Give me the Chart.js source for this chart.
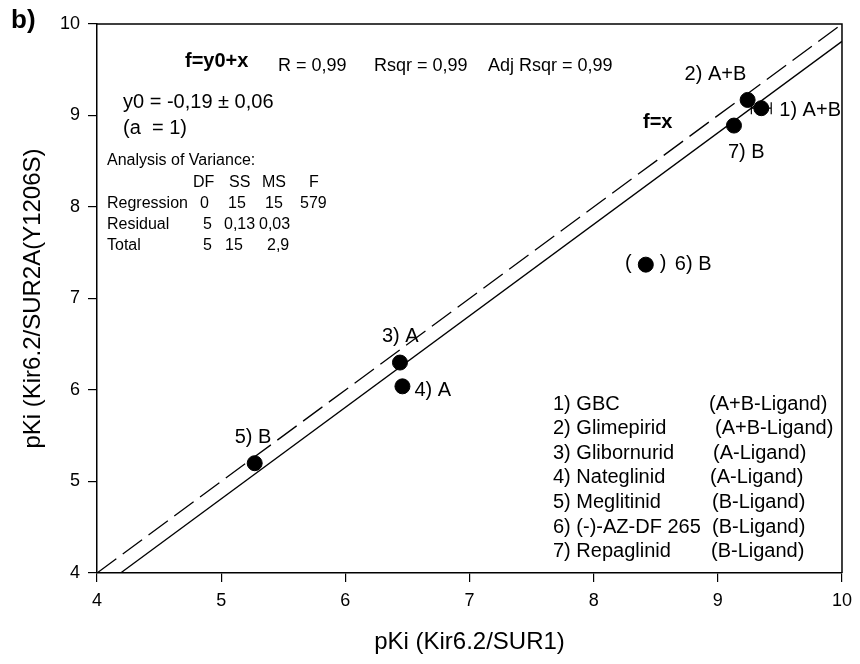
<!DOCTYPE html>
<html><head><meta charset="utf-8">
<script src="https://cdn.jsdelivr.net/npm/chart.js@4/dist/chart.umd.min.js"></script>
<style>html,body{margin:0;padding:0;background:#fff}#wrap{width:860px;height:664px;position:relative}</style>
</head><body><div id="wrap"><canvas id="c" width="860" height="664"></canvas></div>
<script>
// ---- data ----
const compoundNumbers = [1, 2, 3, 4, 5, 6, 7];
const pKiSUR1 = [9.35, 9.24, 6.44, 6.46, 5.27, 8.42, 9.13];
const pKiSUR2A = [9.08, 9.17, 6.30, 6.04, 5.20, 7.37, 8.89];
const pKiSUR1Err = [0.08, 0, 0, 0, 0, 0.14, 0];
const pointLabels = ['1) A+B', '2) A+B', '3) A', '4) A', '5) B', '6) B', '7) B'];
const identityX = [4, 10];
const identityY = [4, 10];
const fitX = [4.19, 10];
const fitY = [4, 9.81];
const xTickValues = [4, 5, 6, 7, 8, 9, 10];
const yTickValues = [4, 5, 6, 7, 8, 9, 10];
const legendNames = ['1) GBC', '2) Glimepirid', '3) Glibornurid', '4) Nateglinid', '5) Meglitinid', '6) (-)-AZ-DF 265', '7) Repaglinid'];
const legendTypes = ['(A+B-Ligand)', '(A+B-Ligand)', '(A-Ligand)', '(A-Ligand)', '(B-Ligand)', '(B-Ligand)', '(B-Ligand)'];
const fitEquation = 'f=y0+x';
const fitStats = ['R = 0,99', 'Rsqr = 0,99', 'Adj Rsqr = 0,99'];
const fitParam = ['y0 = -0,19 \u00b1 0,06', '(a  = 1)'];
const anovaHeader = ['DF', 'SS', 'MS', 'F'];
const anovaRows = [
  ['Regression', '0', '15', '15', '579'],
  ['Residual', '5', '0,13', '0,03', ''],
  ['Total', '5', '15', '2,9', '']
];

// ---- layout / style (not data) ----
const FONT = '"Liberation Sans", Arial, sans-serif';
const labelOffsets = [[18, 2], [-63, -25], [-18, -26], [12, 4], [-20, -26], [29, 0], [-6, 27]];
const legendTypeX = [709, 715, 713, 710, 712, 712, 711];

const pts = pKiSUR1.map((x, i) => ({x, y: pKiSUR2A[i]}));
const idLine = identityX.map((x, i) => ({x, y: identityY[i]}));
const fitLine = fitX.map((x, i) => ({x, y: fitY[i]}));

const overlay = {
  id: 'overlay',
  afterDraw(chart) {
    const ctx = chart.ctx, ca = chart.chartArea;
    const sx = chart.scales.x, sy = chart.scales.y;
    const R = (px, py) => [ca.left + (px - 97), ca.top + (py - 24)];
    ctx.save();
    ctx.strokeStyle = '#000'; ctx.lineWidth = 1.5;
    ctx.beginPath();
    ctx.moveTo(ca.left, ca.top); ctx.lineTo(ca.right, ca.top); ctx.lineTo(ca.right, ca.bottom);
    ctx.stroke();
    ctx.lineWidth = 1.2;
    ctx.fillStyle = '#000';
    ctx.textBaseline = 'middle';
    pts.forEach((p, i) => {
      const e = pKiSUR1Err[i];
      if (!e) return;
      const py = sy.getPixelForValue(p.y);
      const x0 = sx.getPixelForValue(p.x - e), x1 = sx.getPixelForValue(p.x + e);
      if (i === 5) {
        ctx.font = '20px ' + FONT;
        ctx.textAlign = 'center';
        ctx.fillText('(', x0, py - 1);
        ctx.fillText(')', x1, py - 1);
      } else {
        ctx.beginPath();
        ctx.moveTo(x0, py); ctx.lineTo(x1, py);
        ctx.moveTo(x0, py - 6); ctx.lineTo(x0, py + 6);
        ctx.moveTo(x1, py - 6); ctx.lineTo(x1, py + 6);
        ctx.stroke();
      }
    });
    ctx.font = '20px ' + FONT;
    ctx.textAlign = 'left';
    pts.forEach((p, i) => {
      const px = sx.getPixelForValue(p.x), py = sy.getPixelForValue(p.y);
      ctx.fillText(pointLabels[i], px + labelOffsets[i][0], py + labelOffsets[i][1]);
    });
    ctx.font = 'bold 20px ' + FONT;
    let q = R(643, 122); ctx.fillText('f=x', q[0], q[1]);
    q = R(185, 61); ctx.fillText(fitEquation, q[0], q[1]);
    ctx.font = '18px ' + FONT;
    [278, 374, 488].forEach((x, i) => { q = R(x, 66); ctx.fillText(fitStats[i], q[0], q[1]); });
    ctx.font = '20px ' + FONT;
    q = R(123, 102); ctx.fillText(fitParam[0], q[0], q[1]);
    q = R(123, 128); ctx.fillText(fitParam[1], q[0], q[1]);
    ctx.font = '16px ' + FONT;
    q = R(107, 161); ctx.fillText('Analysis of Variance:', q[0], q[1]);
    const hx = [193, 229, 262, 309];
    anovaHeader.forEach((t, i) => { q = R(hx[i], 183); ctx.fillText(t, q[0], q[1]); });
    const colX = [[107, 200, 228, 265, 300], [107, 203, 224, 259, 0], [107, 203, 225, 267, 0]];
    const rowY = [204, 225, 246];
    anovaRows.forEach((row, r) => row.forEach((t, c) => {
      if (!t) return; q = R(colX[r][c], rowY[r]); ctx.fillText(t, q[0], q[1]);
    }));
    ctx.font = '20px ' + FONT;
    legendNames.forEach((t, i) => {
      const yy = 404 + i * 24.6;
      q = R(553, yy); ctx.fillText(t, q[0], q[1]);
      q = R(legendTypeX[i], yy); ctx.fillText(legendTypes[i], q[0], q[1]);
    });
    ctx.font = 'bold 26px ' + FONT;
    ctx.fillText('b)', 11, 21);
    ctx.restore();
  }
};

const axisCommon = (title, ticks, isX) => ({
  type: 'linear', min: 4, max: 10,
  afterBuildTicks: s => { s.ticks = ticks.map(v => ({value: v})); },
  afterFit: s => { if (isX) s.height = 91; else s.width = 97; },
  ticks: {color: '#000', font: {family: FONT, size: 18}, padding: 8},
  grid: {display: true, drawOnChartArea: false, drawTicks: true, tickLength: 9, color: '#000', lineWidth: 1.2},
  border: {display: true, color: '#000', width: 1.5},
  title: {display: true, text: title, color: '#000', font: {family: FONT, size: 24},
          padding: isX ? {top: 0, bottom: 7} : {top: 19, bottom: 0}}
});

new Chart(document.getElementById('c'), {
  type: 'scatter',
  data: {
    datasets: [
      {label: 'compounds', data: pts, pointRadius: 7.5, pointHoverRadius: 7.5,
       backgroundColor: '#000', borderColor: '#000', showLine: false},
      {label: 'f=y0+x', data: fitLine, showLine: true, pointRadius: 0, borderColor: '#000', borderWidth: 1.3},
      {label: 'f=x', data: idLine, showLine: true, pointRadius: 0, borderColor: '#000', borderWidth: 1.3, borderDash: [24, 8]}
    ]
  },
  options: {
    responsive: false, animation: false, devicePixelRatio: 1,
    layout: {padding: {top: 24, right: 18, left: 0, bottom: 0}},
    plugins: {legend: {display: false}, tooltip: {enabled: false}},
    scales: {
      x: axisCommon('pKi (Kir6.2/SUR1)', xTickValues, true),
      y: axisCommon('pKi (Kir6.2/SUR2A(Y1206S)', yTickValues, false)
    }
  },
  plugins: [overlay]
});
</script></body></html>
